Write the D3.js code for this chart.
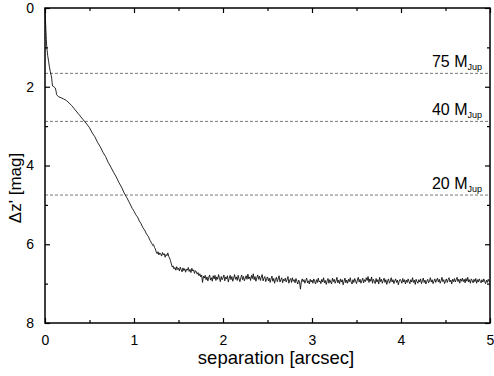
<!DOCTYPE html>
<html>
<head>
<meta charset="utf-8">
<script src="https://cdn.jsdelivr.net/npm/d3@7"></script>
<style>
  body { margin: 0; background: #fff; }
  svg { display: block; font-family: "Liberation Sans", Arial, sans-serif; }
</style>
</head>
<body>
<svg id="chart" width="494" height="376"></svg>
<script>
/* Daten: Kontrastkurve, abgelesen */
// steiler Anfang [separation, delta z']
const innerCurve = [
  [0, 0], [0.005, 0.3], [0.01, 0.55], [0.015, 0.8], [0.02, 1.0], [0.03, 1.2],
  [0.04, 1.35], [0.05, 1.5], [0.06, 1.62], [0.07, 1.72], [0.075, 1.78], [0.08, 1.9],
  [0.085, 1.98], [0.1, 2.0], [0.115, 2.03], [0.125, 2.12], [0.13, 2.2], [0.15, 2.25],
  [0.18, 2.28], [0.21, 2.31], [0.24, 2.35], [0.27, 2.41], [0.3, 2.48], [0.34, 2.59],
  [0.38, 2.7], [0.43, 2.84], [0.47, 2.95], [0.5, 3.04], [0.53, 3.17], [0.56, 3.27],
  [0.59, 3.41], [0.62, 3.52], [0.65, 3.66], [0.68, 3.77], [0.71, 3.92], [0.74, 4.04],
  [0.77, 4.17], [0.8, 4.29], [0.83, 4.43], [0.86, 4.55], [0.89, 4.70], [0.92, 4.82],
  [0.95, 4.95], [0.98, 5.09], [1.0, 5.16], [1.02, 5.25], [1.04, 5.31], [1.06, 5.41],
  [1.08, 5.48], [1.1, 5.58], [1.12, 5.64], [1.14, 5.74], [1.16, 5.80], [1.18, 5.90]
];

// verrauschter Teil ab 1.20 arcsec, alle 0.01 arcsec
const noiseStart = 1.2;
const noiseStep  = 0.01;
const noiseCurve = [
  5.98, 6.03, 6.01, 6.08, 6.12, 6.20, 6.24, 6.19, 6.27, 6.22,
  6.25, 6.30, 6.21, 6.27, 6.24, 6.33, 6.26, 6.29, 6.22, 6.31,
  6.35, 6.42, 6.50, 6.58, 6.55, 6.63, 6.59, 6.66, 6.57, 6.64,
  6.61, 6.68, 6.58, 6.65, 6.70, 6.60, 6.67, 6.62, 6.71, 6.63,
  6.66, 6.59, 6.69, 6.64, 6.72, 6.61, 6.68, 6.65, 6.74, 6.67,
  6.70, 6.76, 6.72, 6.80, 6.75, 6.83, 6.78, 6.97, 6.81, 6.86,
  6.79, 6.90, 6.83, 6.93, 6.84, 6.78, 6.91, 6.85, 6.94, 6.80,
  6.88, 6.79, 6.92, 6.83, 6.89, 6.77, 6.86, 6.95, 6.82, 6.90,
  6.85, 6.78, 6.93, 6.83, 6.88, 6.80, 6.96, 6.86, 6.79, 6.90,
  6.82, 6.94, 6.86, 6.77, 6.89, 6.83, 6.92, 6.79, 6.88, 6.95,
  6.85, 6.78, 6.90, 6.82, 6.93, 6.86, 6.80, 6.89, 6.76, 6.88,
  6.83, 6.92, 6.79, 6.87, 6.75, 6.90, 6.82, 6.94, 6.85, 6.78,
  6.89, 6.81, 6.92, 6.84, 6.77, 6.93, 6.86, 6.82, 6.95, 6.87,
  6.83, 6.93, 6.86, 6.97, 6.88, 6.81, 6.94, 6.87, 6.99, 6.89,
  6.84, 6.95, 6.88, 6.80, 6.96, 6.90, 6.85, 6.98, 6.89, 6.93,
  6.86, 6.96, 6.90, 6.82, 6.99, 6.91, 6.87, 6.97, 6.85, 6.94,
  6.90, 6.98, 6.87, 6.94, 7.01, 6.91, 6.95, 7.14, 6.96, 6.88,
  6.95, 6.90, 6.99, 6.92, 6.86, 6.98, 6.93, 7.01, 6.89, 6.96,
  6.91, 6.99, 6.88, 6.95, 7.01, 6.90, 6.97, 6.86, 6.96, 6.93,
  7.00, 6.89, 6.96, 6.85, 6.98, 6.92, 7.02, 6.93, 6.87, 6.99,
  6.90, 6.96, 7.01, 6.86, 6.95, 6.89, 6.99, 6.93, 6.84, 6.98,
  6.91, 7.00, 6.88, 6.96, 6.90, 7.03, 6.94, 6.86, 6.98, 6.91,
  6.99, 6.89, 6.95, 6.85, 6.96, 7.01, 6.90, 6.97, 6.87, 6.94,
  7.00, 6.91, 6.84, 6.96, 6.89, 6.99, 6.93, 6.86, 6.98, 6.90,
  6.95, 6.85, 6.92, 6.82, 6.97, 6.88, 6.94, 6.83, 6.99, 6.89,
  6.94, 7.00, 6.87, 6.96, 6.90, 7.01, 6.84, 6.95, 6.89, 6.99,
  6.92, 6.86, 6.97, 6.90, 7.02, 6.93, 6.88, 6.99, 6.94, 6.85,
  6.96, 6.90, 7.00, 6.93, 6.88, 6.97, 6.91, 7.03, 6.94, 6.89,
  6.93, 6.99, 6.87, 6.96, 6.90, 7.01, 6.91, 6.97, 6.88, 6.95,
  7.00, 6.90, 6.96, 6.85, 6.97, 6.91, 7.02, 6.89, 6.95, 6.99,
  6.90, 6.96, 6.88, 7.00, 6.93, 6.86, 6.97, 6.91, 7.01, 6.94,
  6.89, 6.98, 6.93, 6.85, 6.96, 6.90, 7.00, 6.94, 6.88, 6.97,
  6.91, 6.86, 6.96, 6.89, 6.99, 6.93, 6.84, 6.95, 6.90, 7.00,
  6.93, 6.88, 6.97, 6.90, 6.85, 6.96, 6.91, 7.01, 6.89, 6.95,
  6.87, 6.96, 6.90, 6.84, 6.95, 6.89, 6.99, 6.88, 6.94, 6.86,
  6.95, 6.89, 6.98, 6.87, 6.94, 6.84, 6.96, 6.90, 6.99, 6.88,
  6.92, 6.98, 6.89, 6.95, 6.87, 6.99, 6.90, 6.96, 6.88, 6.94,
  6.98, 6.90, 6.96, 6.88, 6.95, 7.00, 6.91, 6.97, 6.89, 6.95, 6.93
];

/* Massengrenzen */
const massLimits = [1.66, 2.88, 4.75];
const massLabels = ["75", "40", "20"];

/* Achsen */
const xTicks      = [0, 1, 2, 3, 4, 5];
const xMinorTicks = [0.5, 1.5, 2.5, 3.5, 4.5];
const yTicks      = [0, 2, 4, 6, 8];
const yMinorTicks = [1, 3, 5, 7];

/* Optionen */
const plotLeft   = 45,
      plotRight  = 490,
      plotTop    = 8,
      plotBottom = 323;

const svg = d3.select("#chart");

const x = d3.scaleLinear().domain([0, 5]).range([plotLeft, plotRight]);
const y = d3.scaleLinear().domain([0, 8]).range([plotTop, plotBottom]);

// Kurve zusammensetzen
let curve = innerCurve.slice();
noiseCurve.forEach((v, i) => {
  curve.push([noiseStart + i * noiseStep, v]);
});

// gestrichelte Linien
svg.selectAll(".limit")
  .data(massLimits)
  .enter().append("line")
    .attr("class", "limit")
    .attr("x1", plotLeft)
    .attr("x2", plotRight)
    .attr("y1", (d) => y(d))
    .attr("y2", (d) => y(d))
    .attr("stroke", "#555")
    .attr("stroke-width", 0.8)
    .attr("stroke-dasharray", "3,2");

// Beschriftung M_Jup
let lbl = svg.selectAll(".mlabel")
  .data(massLimits)
  .enter().append("text")
    .attr("class", "mlabel")
    .attr("x", 482)
    .attr("y", (d) => y(d) - 6)
    .attr("text-anchor", "end")
    .attr("font-size", 16)
    .attr("fill", "#000");
lbl.append("tspan").text((d, i) => massLabels[i] + " M");
lbl.append("tspan")
  .attr("font-size", 9)
  .attr("dy", 3)
  .text("Jup");

// Kurve
const line = d3.line()
  .x((d) => x(d[0]))
  .y((d) => y(d[1]));

svg.append("path")
  .datum(curve)
  .attr("d", line)
  .attr("fill", "none")
  .attr("stroke", "#111")
  .attr("stroke-width", 0.9)
  .attr("stroke-linejoin", "round");

// Achsen mit Ticks nach innen
function styleAxis(g) {
  g.select(".domain").remove();
  g.selectAll(".tick line").attr("stroke", "#000").attr("stroke-width", 1.2);
  g.selectAll(".tick text")
    .attr("font-family", "Liberation Sans, Arial, sans-serif")
    .attr("font-size", 14)
    .attr("fill", "#000");
}

svg.append("g")
  .attr("transform", "translate(0," + plotBottom + ")")
  .call(d3.axisBottom(x).tickValues(xTicks).tickFormat(d3.format("d")).tickSizeInner(-5).tickSizeOuter(0).tickPadding(12))
  .call(styleAxis);
svg.append("g")
  .attr("transform", "translate(0," + plotBottom + ")")
  .call(d3.axisBottom(x).tickValues(xMinorTicks).tickFormat("").tickSizeInner(-3).tickSizeOuter(0))
  .call(styleAxis);
svg.append("g")
  .attr("transform", "translate(0," + plotTop + ")")
  .call(d3.axisTop(x).tickValues(xTicks).tickFormat("").tickSizeInner(-5).tickSizeOuter(0))
  .call(styleAxis);
svg.append("g")
  .attr("transform", "translate(0," + plotTop + ")")
  .call(d3.axisTop(x).tickValues(xMinorTicks).tickFormat("").tickSizeInner(-3).tickSizeOuter(0))
  .call(styleAxis);

svg.append("g")
  .attr("transform", "translate(" + plotLeft + ",0)")
  .call(d3.axisLeft(y).tickValues(yTicks).tickFormat(d3.format("d")).tickSizeInner(-5).tickSizeOuter(0).tickPadding(11))
  .call(styleAxis);
svg.append("g")
  .attr("transform", "translate(" + plotLeft + ",0)")
  .call(d3.axisLeft(y).tickValues(yMinorTicks).tickFormat("").tickSizeInner(-3).tickSizeOuter(0))
  .call(styleAxis);
svg.append("g")
  .attr("transform", "translate(" + plotRight + ",0)")
  .call(d3.axisRight(y).tickValues(yTicks).tickFormat("").tickSizeInner(-5).tickSizeOuter(0))
  .call(styleAxis);
svg.append("g")
  .attr("transform", "translate(" + plotRight + ",0)")
  .call(d3.axisRight(y).tickValues(yMinorTicks).tickFormat("").tickSizeInner(-3).tickSizeOuter(0))
  .call(styleAxis);

// Rahmen
svg.append("rect")
  .attr("x", plotLeft)
  .attr("y", plotTop)
  .attr("width", plotRight - plotLeft)
  .attr("height", plotBottom - plotTop)
  .attr("fill", "none")
  .attr("stroke", "#000")
  .attr("stroke-width", 1.5);

// Achsentitel
svg.append("text")
  .attr("x", 276)
  .attr("y", 364)
  .attr("text-anchor", "middle")
  .attr("font-size", 18.5)
  .text("separation [arcsec]");

svg.append("text")
  .attr("transform", "translate(21,188) rotate(-90)")
  .attr("text-anchor", "middle")
  .attr("font-size", 17)
  .text("\u0394z' [mag]");
</script>
</body>
</html>
